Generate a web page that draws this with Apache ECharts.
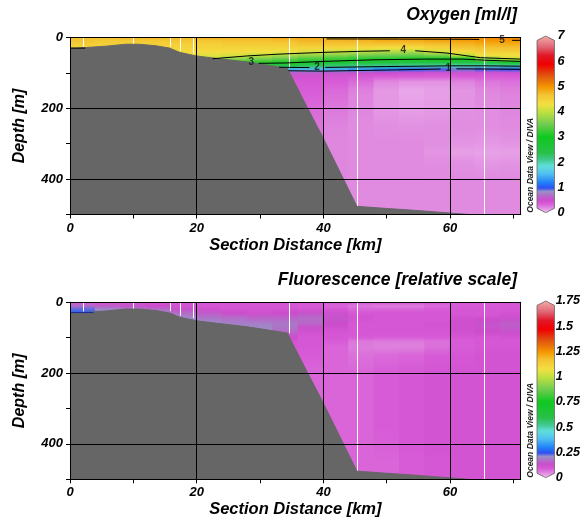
<!DOCTYPE html>
<html><head><meta charset="utf-8">
<script src="https://cdn.jsdelivr.net/npm/echarts@6/dist/echarts.min.js"></script>
<style>html,body{margin:0;padding:0;background:#fff}#c{width:583px;height:527px}</style>
</head><body><div id="c"></div>
<script>
// ---------------- data ----------------
const depthLevels = [0,10,20,30,40,50,60,70,80,90,100,110,125,150,200,250,300,325,350,400,450,500];
const columnKm = [2,6,10,14,18,22,26,30,34,38,42,46,50,54,58,62,66,70];

// oxygen [ml/l] profiles per column at depthLevels (missing = below the sea bed)
const oxygen = [
  [4.7,4.6,4.5,4.45],
  [4.7,4.55,4.5,4.45],
  [4.75,4.55,4.5,4.45],
  [4.75,4.55,4.5,4.45],
  [4.75,4.6,4.5,4.45,4.4,4.3],
  [4.8,4.6,4.5,4.45,4.35,4.2,4.0,3.7],
  [4.8,4.65,4.55,4.45,4.35,4.15,3.7,3.2,2.8],
  [4.8,4.65,4.55,4.45,4.3,4.0,3.58,3.17,2.7,2.0],
  [4.85,4.7,4.55,4.45,4.25,3.86,3.47,3.08,2.38,1.47,0.6,0.45,0.4,0.35,0.3],
  [4.85,4.75,4.6,4.45,4.15,3.73,3.33,2.91,2.3,1.5,0.6,0.45,0.4,0.35,0.3,0.27],
  [4.85,4.75,4.6,4.4,4.05,3.64,3.24,2.78,2.22,1.43,0.58,0.42,0.36,0.3,0.25,0.21,0.2,0.2,0.2,0.2],
  [4.9,4.75,4.6,4.35,3.96,3.56,3.16,2.68,2.16,1.33,0.55,0.4,0.3,0.22,0.2,0.19,0.19,0.19,0.19,0.19,0.19,0.19],
  [4.9,4.8,4.6,4.3,3.9,3.51,3.12,2.63,2.1,1.2,0.5,0.37,0.2,0.14,0.14,0.17,0.19,0.19,0.19,0.19,0.19,0.19],
  [4.95,4.8,4.6,4.3,3.88,3.48,3.08,2.58,2.05,1.05,0.48,0.35,0.16,0.1,0.12,0.16,0.19,0.19,0.19,0.19,0.19,0.19],
  [5.05,4.85,4.65,4.45,4.1,3.58,3.05,2.54,2.03,0.95,0.45,0.34,0.16,0.12,0.13,0.17,0.17,0.15,0.18,0.19,0.19,0.19],
  [5.05,4.9,4.75,4.6,4.4,4.0,3.09,2.53,2.0,0.9,0.45,0.35,0.21,0.15,0.16,0.18,0.15,0.12,0.16,0.19,0.19,0.19],
  [5.1,4.95,4.8,4.65,4.5,4.3,3.7,2.65,2.0,0.95,0.45,0.36,0.26,0.2,0.18,0.18,0.14,0.11,0.14,0.19,0.19,0.19],
  [5.1,4.95,4.8,4.65,4.5,4.3,4.05,2.81,2.07,1.0,0.45,0.36,0.28,0.22,0.2,0.19,0.15,0.12,0.15,0.19,0.19,0.19]
];

// fluorescence [relative scale] profiles per column at depthLevels
const fluorescence = [
  [0.1,0.17,0.23,0.26],
  [0.1,0.15,0.2,0.22],
  [0.1,0.14,0.18,0.2],
  [0.1,0.13,0.17,0.19],
  [0.1,0.11,0.14,0.17,0.19,0.2],
  [0.1,0.1,0.12,0.15,0.17,0.19,0.2],
  [0.1,0.1,0.11,0.13,0.16,0.18,0.19,0.2],
  [0.1,0.1,0.11,0.12,0.15,0.17,0.19,0.2,0.2],
  [0.1,0.1,0.11,0.13,0.15,0.17,0.18,0.18,0.17,0.15,0.13,0.11,0.1,0.1,0.08],
  [0.1,0.09,0.11,0.14,0.16,0.17,0.16,0.14,0.12,0.11,0.1,0.1,0.1,0.09,0.08,0.08],
  [0.1,0.08,0.1,0.12,0.14,0.14,0.13,0.12,0.11,0.1,0.1,0.09,0.08,0.08,0.08,0.08,0.08,0.08,0.08,0.08],
  [0.1,0.065,0.08,0.1,0.11,0.11,0.1,0.1,0.1,0.1,0.09,0.065,0.06,0.07,0.08,0.08,0.08,0.08,0.08,0.08,0.08,0.08],
  [0.1,0.06,0.08,0.1,0.1,0.1,0.1,0.1,0.1,0.1,0.085,0.06,0.055,0.075,0.09,0.09,0.09,0.09,0.09,0.085,0.08,0.08],
  [0.1,0.06,0.08,0.1,0.1,0.1,0.1,0.1,0.1,0.1,0.085,0.06,0.055,0.08,0.1,0.1,0.1,0.1,0.1,0.1,0.09,0.09],
  [0.1,0.075,0.09,0.1,0.1,0.1,0.11,0.11,0.1,0.1,0.09,0.07,0.07,0.09,0.11,0.11,0.11,0.11,0.11,0.11,0.1,0.1],
  [0.1,0.09,0.1,0.1,0.11,0.12,0.12,0.12,0.12,0.11,0.1,0.09,0.09,0.1,0.11,0.11,0.11,0.11,0.11,0.11,0.11,0.11],
  [0.1,0.09,0.1,0.1,0.11,0.13,0.14,0.14,0.13,0.12,0.1,0.1,0.1,0.11,0.11,0.11,0.11,0.11,0.11,0.11,0.11,0.11],
  [0.1,0.1,0.1,0.11,0.12,0.14,0.15,0.15,0.14,0.12,0.11,0.1,0.1,0.11,0.11,0.11,0.11,0.11,0.11,0.11,0.11,0.11]
];

// sea bed
const bathyKm    = [0, 1.1, 1.3, 5.7, 8.8, 10.9, 13.6, 15.7, 17.3, 19.9, 23.1, 28.3, 34.3, 36.9, 40, 45.3, 50, 55, 60, 63];
const bathyDepth = [30, 30, 29, 24.5, 19, 19, 23.5, 30, 42, 52, 59, 70, 87, 178, 285, 477, 483, 489, 496, 500];

// stations (white lines)
const stationKm    = [2.1, 10.0, 15.8, 17.3, 19.4, 34.5, 45.3, 65.4];
const stationDepth = [26, 19, 25, 38, 45, 87, 477, 500];

// oxygen contour lines (segments of [km, depth])
const oxyContour5 = [[[40.5,4],[52,4.5],[63,5],[64.6,5.5]], [[69.8,8],[71.15,8]]];
const oxyContour4 = [[[22.5,60],[28,52],[33,47],[40,42],[46,39],[50.5,37.5]], [[54.5,37.5],[59.5,44],[64.8,57],[71.15,61]]];
const oxyContour3 = [[[29.8,73],[34,72],[40,67.5],[48,63],[56,61],[62,61],[66,64.5],[71.15,67.5]]];
const oxyContour2 = [[[33,84],[37.8,85]], [[40.3,84.5],[50,82],[60,80],[66,80],[71.15,81]]];
const oxyContour1 = [[[34.5,94],[40,95],[50,92],[58.5,89]], [[61,88.5],[66,89],[71.15,90]]];
const oxyContourShelf = [[[0,30],[2.4,30]]];
const oxyContourLabels = [[52.6,37,'4'],[28.6,71,'3'],[39,84.5,'2'],[59.7,88,'1'],[68.2,8.5,'5']];
const fluoContourShelf = [[[0,29],[3.7,29]]];

// axes / colour bars
const KM_MAX = 71.15, DEPTH_MAX = 500;
const kmTicks = [0,10,20,30,40,50,60,70];
const kmLabels = [0,20,40,60];
const depthTicks = [0,100,200,300,400,500];
const depthLabels = [0,200,400];
const oxyMax = 7, oxyStep = 1;
const fluoMax = 1.75, fluoStep = 0.25;

// ---------------- colour map (ODV-like) ----------------
const cmapStops = [[0,'#f4c4f4'],[0.01,'#ecb0ec'],[0.02,'#e498e4'],[0.03,'#de84de'],[0.05,'#d85cd8'],[0.075,'#cc4ccc'],
  [0.1,'#b070c8'],[0.12,'#9890c8'],[0.14,'#3050f0'],[0.17,'#2080f8'],[0.22,'#50c0f0'],[0.265,'#60e0d8'],
  [0.3,'#40c890'],[0.34,'#28c048'],[0.43,'#10c820'],[0.5,'#70cc50'],[0.57,'#c0e040'],[0.615,'#f4e040'],
  [0.67,'#f4c030'],[0.71,'#f49800'],[0.78,'#e05010'],[0.84,'#f00000'],[0.89,'#e01828'],[0.94,'#e06878'],[1,'#f4aca4']];
function hexRgb(h){return [parseInt(h.slice(1,3),16),parseInt(h.slice(3,5),16),parseInt(h.slice(5,7),16)];}
function cmap(f){
  f = Math.max(0, Math.min(1, f));
  for (let i=1;i<cmapStops.length;i++){
    if (f <= cmapStops[i][0]) {
      const f0=cmapStops[i-1][0], f1=cmapStops[i][0];
      const t=(f-f0)/((f1-f0)||1);
      const a=hexRgb(cmapStops[i-1][1]), b=hexRgb(cmapStops[i][1]);
      return 'rgb('+a.map((v,k)=>Math.round(v+(b[k]-v)*t)).join(',')+')';
    }
  }
  return cmapStops[cmapStops.length-1][1];
}
const palette = [];
for (let i=0;i<=200;i++) palette.push(cmap(i/200));

// ---------------- builders ----------------
const FONT = '"Liberation Sans", Arial, sans-serif';
const lab = {fontFamily: FONT, fontWeight:'bold', fontStyle:'italic', color:'#000'};
const colHalf = (columnKm[1]-columnKm[0])/2;

function fieldSeries(profiles, vmax, gi){
  return {
    type:'custom', xAxisIndex: gi*2, yAxisIndex: gi*2, z:1, clip:true, silent:true,
    data: columnKm.map((km,i)=>[km-colHalf, km+colHalf, i]),
    renderItem: function(params, api){
      const prof = profiles[api.value(2)];
      const tl = api.coord([api.value(0), 0]);
      const br = api.coord([api.value(1), DEPTH_MAX]);
      const stops = [];
      for (let k=0;k<prof.length;k++){
        if (prof[k] == null) continue;
        stops.push({offset: depthLevels[k]/DEPTH_MAX, color: cmap(prof[k]/vmax)});
      }
      return {type:'rect', shape:{x:tl[0]-0.5, y:tl[1], width:br[0]-tl[0]+1, height:br[1]-tl[1]},
        style:{fill: new echarts.graphic.LinearGradient(0,0,0,1,stops)}};
    }
  };
}
function stationSeries(gi){
  return {
    type:'custom', xAxisIndex: gi*2, yAxisIndex: gi*2, z:2, clip:true, silent:true,
    data: stationKm.map((k,i)=>[k, stationDepth[i]]),
    renderItem: function(params, api){
      const a = api.coord([api.value(0), 0]);
      const b = api.coord([api.value(0), api.value(1)]);
      const x = Math.round(a[0]) + 0.5;
      return {type:'line', shape:{x1:x, y1:a[1], x2:x, y2:b[1]}, style:{stroke:'#fff', lineWidth:1}};
    }
  };
}
function bathySeries(gi){
  return {
    type:'line', xAxisIndex: gi*2, yAxisIndex: gi*2, z:3, silent:true, symbol:'none',
    data: bathyKm.map((k,i)=>[k, bathyDepth[i]]),
    lineStyle:{color:'#666', width:1}, areaStyle:{color:'#666', opacity:1, origin:'end'}
  };
}
function contourSeries(segments, gi, color){
  return segments.map(seg=>({
    type:'line', xAxisIndex: gi*2, yAxisIndex: gi*2, z:4, silent:true, symbol:'none',
    data: seg, lineStyle:{color: color, width:1}
  }));
}
function mainX(gi){
  return {type:'value', gridIndex:gi, min:0, max:KM_MAX, position:'bottom', z:10,
    axisLine:{show:true, onZero:false, lineStyle:{color:'#000', width:1}},
    axisTick:{show:true, length:4, customValues:kmTicks, lineStyle:{color:'#000'}},
    axisLabel:Object.assign({show:true, customValues:kmLabels, margin:7, fontSize:13}, lab),
    splitLine:{show:false},
    name:'Section Distance [km]', nameLocation:'middle', nameGap:22,
    nameTextStyle:Object.assign({fontSize:16.5}, lab)};
}
function frameX(gi){
  return {type:'value', gridIndex:gi, min:0, max:KM_MAX, position:'top', interval:20, z:10,
    axisLine:{show:true, onZero:false, lineStyle:{color:'#000', width:1}},
    axisTick:{show:false}, axisLabel:{show:false},
    splitLine:{show:true, lineStyle:{color:'#000', width:1}}};
}
function mainY(gi){
  return {type:'value', gridIndex:gi, min:0, max:DEPTH_MAX, inverse:true, position:'left', z:10,
    axisLine:{show:true, onZero:false, lineStyle:{color:'#000', width:1}},
    axisTick:{show:true, length:4, customValues:depthTicks, lineStyle:{color:'#000'}},
    axisLabel:Object.assign({show:true, customValues:depthLabels, margin:7, fontSize:13}, lab),
    splitLine:{show:false},
    name:'Depth [m]', nameLocation:'middle', nameGap:42,
    nameTextStyle:Object.assign({fontSize:16}, lab)};
}
function frameY(gi){
  return {type:'value', gridIndex:gi, min:0, max:DEPTH_MAX, inverse:true, position:'right', interval:200, z:10,
    axisLine:{show:true, onZero:false, lineStyle:{color:'#000', width:1}},
    axisTick:{show:false}, axisLabel:{show:false},
    splitLine:{show:true, lineStyle:{color:'#000', width:1}}};
}
function cbY(gi, max, step){
  return {type:'value', gridIndex:gi, min:0, max:max, interval:step, position:'right',
    axisLine:{show:false}, axisTick:{show:true, length:3, lineStyle:{color:'#000'}},
    axisLabel:Object.assign({margin:3, fontSize:12.5}, lab), splitLine:{show:false}};
}
function cbDecor(top, h){
  const L=537, R=554.5, M=(L+R)/2, cap=4.5, B=top+h;
  const w = {fill:'#fff'};
  return [
    {type:'polygon', z:100, shape:{points:[[L-1,top-1],[M,top-1],[M,top],[L-1,top+cap]]}, style:w},
    {type:'polygon', z:100, shape:{points:[[R+1,top-1],[M,top-1],[M,top],[R+1,top+cap]]}, style:w},
    {type:'polygon', z:100, shape:{points:[[L-1,B+1],[M,B+1],[M,B],[L-1,B-cap]]}, style:w},
    {type:'polygon', z:100, shape:{points:[[R+1,B+1],[M,B+1],[M,B],[R+1,B-cap]]}, style:w},
    {type:'polygon', z:101, shape:{points:[[L,top+cap],[M,top],[R,top+cap],[R,B-cap],[M,B],[L,B-cap]]},
      style:{fill:null, stroke:'#666', lineWidth:0.8}},
    {type:'text', z:101, x:530.5, y:B, rotation:Math.PI/2,
      style:{text:'Ocean Data View / DIVA', font:'italic bold 8.5px "Liberation Sans"', fill:'#222',
        align:'left', verticalAlign:'middle', textAlign:'left', textVerticalAlign:'middle'}}
  ];
}

const CB1_TOP = 36, CB1_H = 176.7, CB2_TOP = 301, CB2_H = 176.7;

const series = [];
series.push(fieldSeries(oxygen, oxyMax, 0));
series.push(stationSeries(0));
series.push(bathySeries(0));
[oxyContour5, oxyContour4, oxyContour3, oxyContour2, oxyContour1, oxyContourShelf].forEach(c=>{
  contourSeries(c, 0, '#000').forEach(s=>series.push(s));
});
series.push({type:'scatter', xAxisIndex:0, yAxisIndex:0, z:5, silent:true, symbolSize:0,
  data: oxyContourLabels,
  label:{show:true, position:'inside', formatter:p=>p.data[2], fontSize:10, fontWeight:'bold', color:'#111', fontFamily:FONT}});
const fluoFieldIndex = series.length;
series.push(fieldSeries(fluorescence, fluoMax, 1));
series.push(stationSeries(1));
series.push(bathySeries(1));
contourSeries(fluoContourShelf, 1, '#1a2a9a').forEach(s=>series.push(s));

const option = {
  animation:false,
  backgroundColor:'#fff',
  title:[
    {text:'Oxygen [ml/l]', right:66, top:6, padding:0,
      textStyle:Object.assign({fontSize:17.5}, lab)},
    {text:'Fluorescence [relative scale]', right:66, top:271, padding:0,
      textStyle:Object.assign({fontSize:17.5}, lab)}
  ],
  grid:[
    {left:70, top:37.5, width:450.7, height:177},
    {left:70, top:302.3, width:450.7, height:177},
    {left:537, top:CB1_TOP, width:17.5, height:CB1_H},
    {left:537, top:CB2_TOP, width:17.5, height:CB2_H}
  ],
  xAxis:[mainX(0), frameX(0), mainX(1), frameX(1),
    {type:'value', gridIndex:2, show:false, min:0, max:1},
    {type:'value', gridIndex:3, show:false, min:0, max:1}],
  yAxis:[mainY(0), frameY(0), mainY(1), frameY(1), cbY(2, oxyMax, oxyStep), cbY(3, fluoMax, fluoStep)],
  visualMap:[
    {type:'continuous', min:0, max:oxyMax, seriesIndex:0, dimension:0, calculable:false, hoverLink:false,
      orient:'vertical', left:537, top:CB1_TOP, itemWidth:17.5, itemHeight:CB1_H, padding:0,
      inRange:{color:palette}, outOfRange:{color:palette}},
    {type:'continuous', min:0, max:fluoMax, seriesIndex:fluoFieldIndex, dimension:0, calculable:false, hoverLink:false,
      orient:'vertical', left:537, top:CB2_TOP, itemWidth:17.5, itemHeight:CB2_H, padding:0,
      inRange:{color:palette}, outOfRange:{color:palette}}
  ],
  graphic: cbDecor(CB1_TOP, CB1_H).concat(cbDecor(CB2_TOP, CB2_H)),
  series: series
};
const chart = echarts.init(document.getElementById('c'), null, {renderer:'canvas'});
chart.setOption(option);
</script></body></html>
